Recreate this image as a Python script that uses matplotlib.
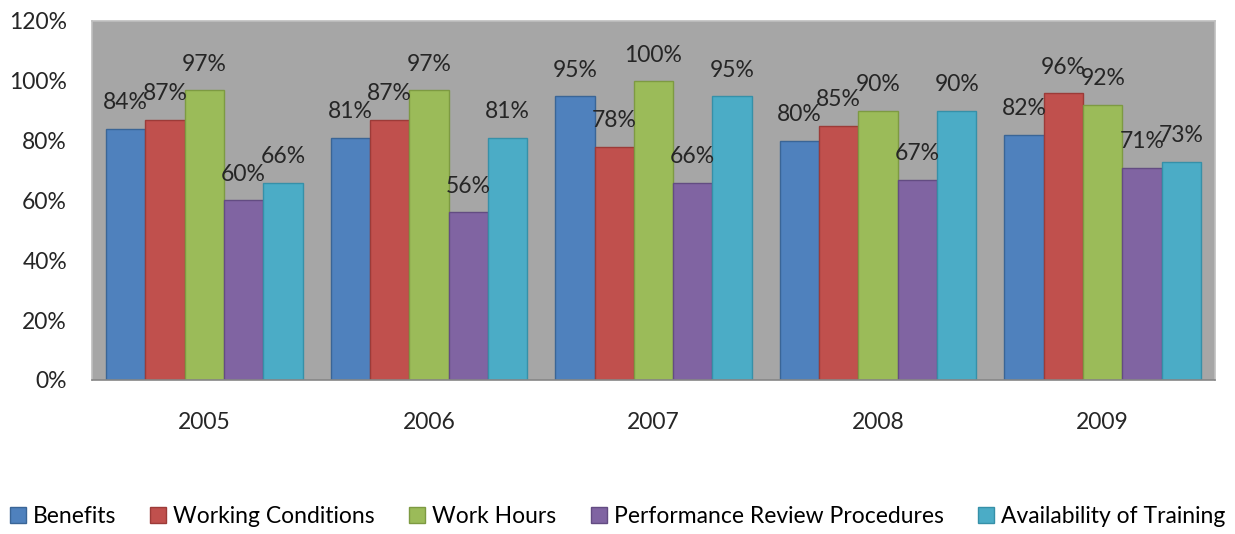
import numpy as np
import matplotlib
matplotlib.use("Agg")
import matplotlib.pyplot as plt
from matplotlib.ticker import FuncFormatter

plt.rcParams["font.family"] = ["Lato", "DejaVu Sans"]

years = ["2005", "2006", "2007", "2008", "2009"]
series = ["Benefits", "Working Conditions", "Work Hours",
          "Performance Review Procedures", "Availability of Training"]
benefits = [84, 81, 95, 80, 82]
working_conditions = [87, 87, 78, 85, 96]
work_hours = [97, 97, 100, 90, 92]
performance_review = [60, 56, 66, 67, 71]
training = [66, 81, 95, 90, 73]
values = [benefits, working_conditions, work_hours, performance_review, training]

colors = ["#4F81BD", "#C0504D", "#9BBB59", "#8064A2", "#4BACC6"]
edges = ["#3A6596", "#9C3B38", "#7D9A42", "#634C82", "#3690A8"]

fig = plt.figure(figsize=(12.35, 5.34), dpi=100)
ax = fig.add_axes([0.0745, 0.2884, 0.9093, 0.6723])
ax.set_facecolor("#A6A6A6")

x = np.arange(len(years))
w = 0.175
for i, (name, vals) in enumerate(zip(series, values)):
    pos = x + (i - 2) * w
    ax.bar(pos, vals, width=w, color=colors[i], edgecolor=edges[i],
           linewidth=1.0, label=name, zorder=2)
    for px, v in zip(pos, vals):
        ax.annotate(f"{v}%", (px, v), xytext=(0, 11), textcoords="offset points",
                    ha="center", va="bottom", fontsize=16.5, color="#262626",
                    zorder=3)

ax.set_xlim(-0.5, len(years) - 0.5)
ax.set_ylim(0, 120)
ax.set_yticks(range(0, 121, 20))
ax.yaxis.set_major_formatter(FuncFormatter(lambda v, p: f"{int(v)}%"))
ax.set_xticks(x)
ax.set_xticklabels(years)
ax.tick_params(axis="both", length=0, labelsize=16.5, colors="#262626")
ax.tick_params(axis="x", pad=23)
ax.tick_params(axis="y", pad=18)
for s in ax.spines.values():
    s.set_color("#BFBFBF")
    s.set_linewidth(1.2)
ax.spines["bottom"].set_color("#868686")

fig.legend(loc="lower center", bbox_to_anchor=(0.5, -0.025), ncol=5,
           frameon=False, fontsize=16.5, handlelength=0.7, handleheight=0.7,
           handletextpad=0.3, columnspacing=1.5)

fig.savefig("out.png", dpi=100)
